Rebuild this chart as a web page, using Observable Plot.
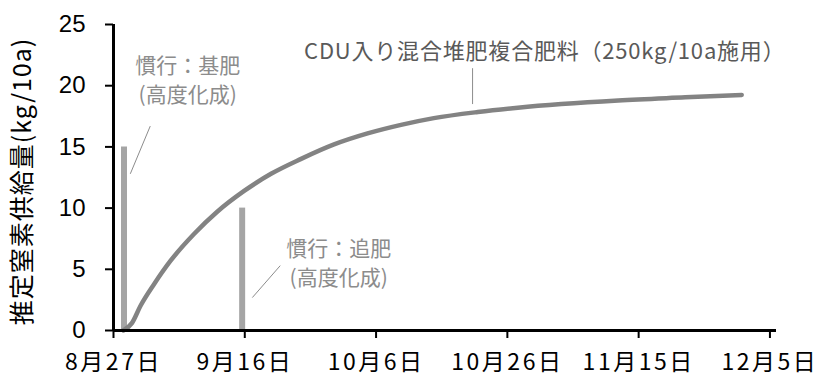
<!DOCTYPE html>
<html>
<head>
<meta charset="utf-8">
<script src="https://cdn.jsdelivr.net/npm/d3@7"></script>
<script src="https://cdn.jsdelivr.net/npm/@observablehq/plot@0.6"></script>
<style>
  html, body { margin: 0; padding: 0; background: #fff; }
  #chart svg { display: block; }
  .xaxis text { letter-spacing: 2.5px; }
  .ytitle text { letter-spacing: 1px; }
  .cdu text { letter-spacing: 0.8px; }
</style>
</head>
<body>
<div id="chart"></div>
<script>
// Season start (x = 0 days) and axis end
const seasonStart = "2019-08-27";
const seasonEnd = "2019-12-06";

// Estimated nitrogen supply from the CDU compost compound fertilizer
const elapsedDays = [1.5, 2.8, 4.1, 6.2, 8.7, 12.3, 15.8, 19.9, 24.0, 28.5, 33.6, 38.7, 43.8, 48.8, 55.5, 61.6, 68.2, 76.9, 87.1, 95.7];
const supplyCDU = [0, 0.6, 2.0, 3.8, 5.7, 7.9, 9.7, 11.4, 12.8, 14.0, 15.2, 16.1, 16.8, 17.35, 17.85, 18.2, 18.5, 18.8, 19.05, 19.25];

// Conventional practice: basal and top dressing (days after start, kg/10a)
const dressingDays = [1.6, 19.6];
const dressingAmounts = [15, 10];

// Axis ticks
const xTickDates = ["2019-08-27", "2019-09-16", "2019-10-06", "2019-10-26", "2019-11-15", "2019-12-05"];
const yTicks = [0, 5, 10, 15, 20, 25];

// Callout labels and their leader lines (days after start, kg/10a)
const labelText = ["慣行：基肥\n(高度化成)", "慣行：追肥\n(高度化成)", "CDU入り混合堆肥複合肥料（250kg/10a施用）"];
const labelDay = [11.3, 34.3, 65.7];
const labelValue = [20.6, 5.65, 22.74];
const leaderDay1 = [5.6, 25.4, 54.7];
const leaderValue1 = [16.7, 5.3, 21.43];
const leaderDay2 = [2.56, 21.15, 54.7];
const leaderValue2 = [12.8, 2.69, 18.5];

const t0 = new Date(seasonStart + "T00:00:00Z").getTime();
const atDay = (n) => new Date(t0 + n * 864e5);
const parseDay = (s) => new Date(s + "T00:00:00Z");

const curve = elapsedDays.map((d, i) => ({date: atDay(d), value: supplyCDU[i]}));
const dressings = dressingDays.map((d, i) => ({date: atDay(d), value: dressingAmounts[i]}));
const labels = labelText.map((t, i) => ({text: t, date: atDay(labelDay[i]), value: labelValue[i]}));
const leaders = leaderDay1.map((d, i) => ({
  x1: atDay(d), y1: leaderValue1[i], x2: atDay(leaderDay2[i]), y2: leaderValue2[i]
}));

const jp = "'Noto Sans CJK JP', 'Noto Sans', sans-serif";
const fmtDate = (d) => `${d.getUTCMonth() + 1}月${d.getUTCDate()}日`;

const chart = Plot.plot({
  width: 817,
  height: 376,
  marginLeft: 113,
  marginRight: 41,
  marginTop: 24,
  marginBottom: 46,
  style: {fontFamily: jp, background: "#fff"},
  x: {type: "utc", domain: [parseDay(seasonStart), parseDay(seasonEnd)], axis: null},
  y: {domain: [0, 25], axis: null},
  marks: [
    // dressing amounts as thin bars
    Plot.ruleX(dressings, {x: "date", y1: 0, y2: "value", stroke: "#a5a5a5", strokeWidth: 6}),
    // cumulative supply curve
    Plot.line(curve, {x: "date", y: "value", curve: "monotone-x", stroke: "#838383", strokeWidth: 4.5, strokeLinecap: "round", strokeLinejoin: "round"}),
    // leader lines
    Plot.link(leaders, {x1: "x1", y1: "y1", x2: "x2", y2: "y2", stroke: "#8c8c8c", strokeWidth: 1}),
    // callout text
    Plot.text(labels.slice(0, 2), {x: "date", y: "value", text: "text", fill: "#8c8c8c", fontSize: 21, lineHeight: 1.4, textAnchor: "middle", lineAnchor: "middle"}),
    Plot.text(labels.slice(2), {x: "date", y: "value", text: "text", fill: "#595959", fontSize: 22, textAnchor: "middle", lineAnchor: "middle", className: "cdu"}),
    // axes
    Plot.axisY({ticks: yTicks, tickSize: 8, tickPadding: 20, strokeWidth: 2, stroke: "#000", fontSize: 24, fontFamily: "'Liberation Sans', Arial, sans-serif", color: "#000", label: null}),
    Plot.axisX({ticks: xTickDates.map(parseDay), tickSize: 8, tickPadding: 15, strokeWidth: 2, stroke: "#000", fontSize: 23, tickFormat: fmtDate, label: null, className: "xaxis"}),
    Plot.ruleX([parseDay(seasonStart)], {y1: 0, y2: 25, stroke: "#000", strokeWidth: 3}),
    Plot.ruleY([0], {stroke: "#000", strokeWidth: 3}),
    // y-axis title
    Plot.text(["推定窒素供給量(kg/10a)"], {frameAnchor: "left", text: (d) => d, rotate: -90, dx: -91, dy: 4, fontSize: 25, fill: "#000", textAnchor: "middle", lineAnchor: "middle", className: "ytitle"})
  ]
});

document.getElementById("chart").append(chart);
</script>
</body>
</html>
